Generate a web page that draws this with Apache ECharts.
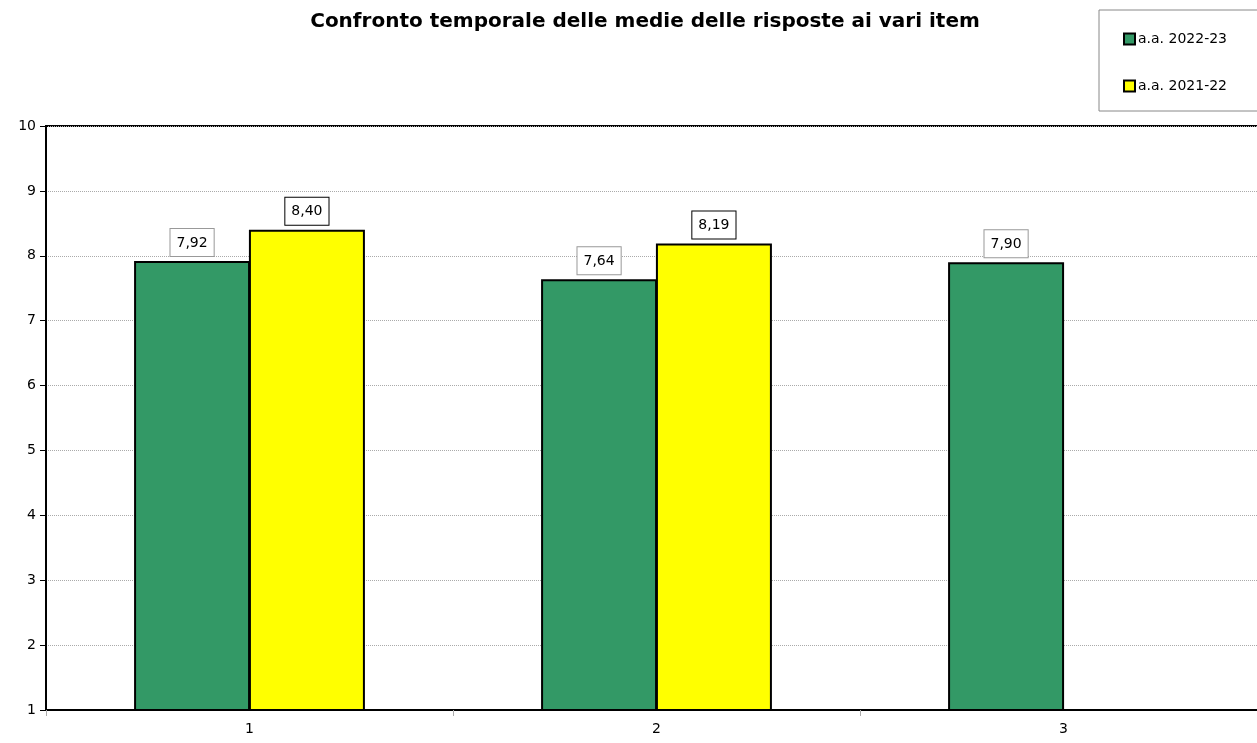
<!DOCTYPE html>
<html>
<head>
<meta charset="utf-8">
<script src="https://cdn.jsdelivr.net/npm/echarts@6/dist/echarts.min.js"></script>
<style>html,body{margin:0;padding:0;background:#fff;overflow:hidden}#c{width:1268px;height:743px}</style>
</head>
<body>
<div id="c"></div>
<script>
const categories = ['1', '2', '3'];
const seriesNames = ['a.a. 2022-23', 'a.a. 2021-22'];
const values2223 = [7.92, 7.64, 7.90];
const values2122 = [8.40, 8.19, null];
const yTicks = [1, 2, 3, 4, 5, 6, 7, 8, 9, 10];

const FONT = '"DejaVu Sans", sans-serif';
const fmt = p => p.value == null ? '' : p.value.toFixed(2).replace('.', ',');

function labelCfg(borderColor) {
  return {
    show: true, position: 'top', distance: 5, formatter: fmt,
    fontFamily: FONT, fontSize: 14, color: '#000',
    backgroundColor: '#fff', borderColor: borderColor, borderWidth: 1,
    padding: [7, 6, 6, 6]
  };
}

const chart = echarts.init(document.getElementById('c'));
chart.setOption({
  animation: false,
  title: {
    text: 'Confronto temporale delle medie delle risposte ai vari item',
    left: 640, textAlign: 'center', top: 7,
    textStyle: { fontFamily: FONT, fontWeight: 'bold', fontSize: 20, color: '#000' }
  },
  legend: {
    orient: 'vertical', left: 1099, top: 10,
    backgroundColor: '#fff', borderColor: '#888', borderWidth: 1,
    padding: [22, 40, 18, 24], itemGap: 33, itemWidth: 11, itemHeight: 11,
    textStyle: { fontFamily: FONT, fontSize: 14, color: '#000', padding: [0, 0, 0, -2] },
    icon: 'rect',
    data: seriesNames
  },
  grid: {
    left: 46, right: 1, top: 126, bottom: 33,
    show: true, borderColor: '#000', borderWidth: 2, backgroundColor: 'transparent'
  },
  xAxis: {
    type: 'category', data: categories,
    axisLine: { lineStyle: { color: '#000', width: 2 } },
    axisTick: { show: true, length: 6, lineStyle: { color: '#aaa' } },
    axisLabel: { fontFamily: FONT, fontSize: 14, color: '#000', margin: 12 }
  },
  yAxis: {
    type: 'value', min: yTicks[0], max: yTicks[yTicks.length - 1], interval: 1,
    axisLine: { show: true, lineStyle: { color: '#000', width: 2 } },
    axisTick: { show: true, length: 6, lineStyle: { color: '#000' } },
    axisLabel: { fontFamily: FONT, fontSize: 14, color: '#000', margin: 10 },
    splitLine: { show: true, lineStyle: { color: '#aaa', type: [1, 1], width: 1 } }
  },
  series: [
    {
      name: seriesNames[0], type: 'bar', data: values2223,
      barWidth: 116, barGap: '-1%',
      itemStyle: { color: '#339966', borderColor: '#000', borderWidth: 2 },
      label: labelCfg('#999')
    },
    {
      name: seriesNames[1], type: 'bar', data: values2122,
      barWidth: 116, barGap: '-1%',
      itemStyle: { color: '#FFFF00', borderColor: '#000', borderWidth: 2 },
      label: labelCfg('#000')
    }
  ]
});
</script>
</body>
</html>
